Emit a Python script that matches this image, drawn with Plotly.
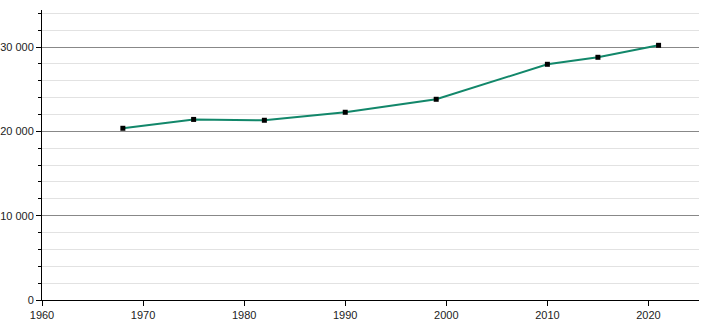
import plotly.graph_objects as go

years = [1968, 1975, 1982, 1990, 1999, 2010, 2015, 2021]
population = [20370, 21420, 21320, 22270, 23810, 27960, 28790, 30210]

fig = go.Figure()
fig.add_trace(go.Scatter(
    x=years, y=population, mode="lines+markers",
    line=dict(color="#12876a", width=2),
    marker=dict(symbol="square", size=5, color="#000000"),
    hoverinfo="x+y", showlegend=False,
))

fig.update_layout(
    width=710, height=320,
    margin=dict(l=42, r=11, t=10, b=20),
    paper_bgcolor="white", plot_bgcolor="white",
    separators=". ",
    font=dict(family="Liberation Sans, Arial, sans-serif", size=11, color="#222222"),
)
fig.update_xaxes(
    range=[1960, 2025], dtick=10, tick0=1960, automargin=False,
    showgrid=False, zeroline=False,
    showline=True, linecolor="#000000", linewidth=1,
    ticks="outside", ticklen=5, tickcolor="#000000",
)
fig.update_yaxes(
    range=[0, 34400], dtick=10000, tickformat=",d", automargin=False,
    showgrid=True, gridcolor="#888888", gridwidth=1,
    zeroline=False,
    showline=True, linecolor="#000000", linewidth=1,
    ticks="outside", ticklen=5, tickcolor="#000000",
    minor=dict(dtick=2000, showgrid=True, gridcolor="#e2e2e2", gridwidth=1,
               ticks="outside", ticklen=3, tickcolor="#000000"),
)

fig.write_html("out.html")
